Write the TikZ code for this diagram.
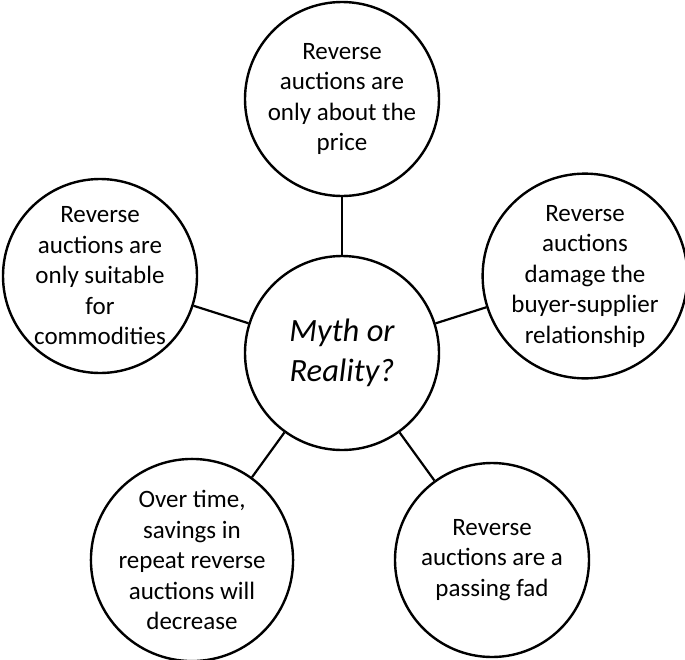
\documentclass[tikz,border=0pt]{standalone}
\usepackage{fontspec}
\setmainfont{Carlito}
\begin{document}
\begin{tikzpicture}[x=1pt,y=-1pt,
  myth/.style={draw,circle,line width=2.4pt,minimum size=194pt,inner sep=0pt,
    align=center,font=\fontsize{25}{30.5}\selectfont},
  link/.style={line width=2.2pt}]

\useasboundingbox (0,0) rectangle (685,659);

%%%%%%%%%%%%%%%%%%%%%%%%
% centre
%%%%%%%%%%%%%%%%%%%%%%%%

\node[myth,font=\fontsize{32.5}{40}\selectfont\itshape](centre) at (342,353) {Myth or\\Reality?};

%%%%%%%%%%%%%%%%%%%%%%%%
% myths
%%%%%%%%%%%%%%%%%%%%%%%%

\node[myth](price) at (342,99) {Reverse\\auctions are\\only about the\\price};
\node[myth](commod) at (100,276) {Reverse\\auctions are\\only suitable\\for\\commodities};
\node[myth](damage) at (585,276) {Reverse\\auctions\\damage the\\buyer-supplier\\relationship};
\node[myth](savings) at (192,560) {Over time,\\savings in\\repeat reverse\\auctions will\\decrease};
\node[myth](fad) at (492,560) {Reverse\\auctions are a\\passing fad};

\draw[link] (centre) -- (price);
\draw[link] (centre) -- (commod);
\draw[link] (centre) -- (damage);
\draw[link] (centre) -- (savings);
\draw[link] (centre) -- (fad);

\end{tikzpicture}
\end{document}
